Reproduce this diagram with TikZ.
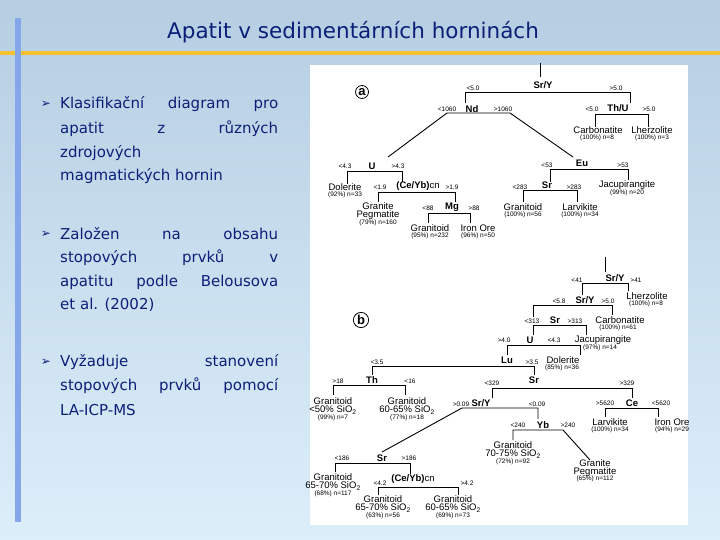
\documentclass[tikz,border=0pt]{standalone}
\usepackage{fontspec}
\setmainfont{DejaVu Sans}
\newfontfamily\trf{Liberation Sans}
\newfontfamily\djv{DejaVu Sans}
\definecolor{navy}{HTML}{0C1F78}
\definecolor{bgtop}{HTML}{B6CEE2}
\definecolor{bgbot}{HTML}{DCEEFA}
\definecolor{barblue}{HTML}{86A6EC}
\definecolor{yel}{HTML}{F2C230}
\begin{document}
\begin{tikzpicture}[x=1pt,y=-1pt,
  nm/.style={font=\trf\bfseries\fontsize{9.5}{10}\selectfont,inner sep=0.5pt},
  lf/.style={font=\trf\fontsize{9.5}{8.5}\selectfont,inner sep=0.5pt,align=center},
  st/.style={font=\trf\fontsize{6.5}{7}\selectfont,inner sep=0.5pt,align=center},
  th/.style={font=\trf\fontsize{6.5}{7}\selectfont,inner sep=0.5pt},
  br/.style={line width=0.9pt,black},
  bl/.style={font=\fontsize{15}{20}\selectfont,text=navy,anchor=west,inner sep=0pt},
  bul/.style={font=\djv\fontsize{12}{12}\selectfont,text=navy,inner sep=0pt}]
\useasboundingbox (0,0) rectangle (720,540);
\shade[top color=bgtop,bottom color=bgbot] (0,0) rectangle (720,540);
\fill[yel] (0,51) rectangle (720,55);
\fill[barblue] (15,18) rectangle (21,522);
\node[font=\fontsize{21.5}{24}\selectfont,text=navy] (title) at (353,32) {Apatit v sedimentárních horninách};
% bullets
\node[bul] (b1) at (46,104) {➢};
\node[bl] (l11) at (60,104) {\makebox[218pt][s]{Klasifikační\hfill diagram\hfill pro}};
\node[bl] (l12) at (60,129) {\makebox[218pt][s]{apatit\hfill z\hfill různých}};
\node[bl] (l13) at (60,153) {zdrojových};
\node[bl] (l14) at (60,176) {magmatických hornin};
\node[bul] (b2) at (46,234) {➢};
\node[bl] (l21) at (60,234) {\makebox[218pt][s]{Založen\hfill na\hfill obsahu}};
\node[bl] (l22) at (60,258) {\makebox[218pt][s]{stopových\hfill prvků\hfill v}};
\node[bl] (l23) at (60,282) {\makebox[218pt][s]{apatitu\hfill podle\hfill Belousova}};
\node[bl] (l24) at (60,305) {et al. (2002)};
\node[bul] (b3) at (46,362) {➢};
\node[bl] (l31) at (60,362) {\makebox[218pt][s]{Vyžaduje\hfill stanovení}};
\node[bl] (l32) at (60,386) {\makebox[218pt][s]{stopových\hfill prvků\hfill pomocí}};
\node[bl] (l33) at (60,410) {LA-ICP-MS};
% panel
\fill[white] (310,65) rectangle (688,525);
% ---------- tree a ----------
\node[draw,circle,line width=0.8pt,inner sep=1pt,font=\trf\bfseries\fontsize{13}{13}\selectfont] (ca) at (362,92) {a};
\draw[br] (540,63) -- (540,77);
\node[nm] (srya) at (543,85) {Sr/Y};
\node[th] at (473,88) {<5.0}; \node[th] at (616,88) {>5.0};
\draw[br] (465,103) -- (465,92) -- (630,92) -- (630,103);
\node[nm] (nd) at (472,109) {Nd};
\node[th] at (447,109) {<1060}; \node[th] at (503,109) {>1060};
\draw[br] (388,157) -- (447,113) -- (510,113) -- (573,157);
\node[nm] (thu) at (618,108) {Th/U};
\node[th] at (592,109) {<5.0}; \node[th] at (649,109) {>5.0};
\draw[br] (595,127) -- (595,114) -- (648,114) -- (648,127);
\node[lf] at (598,130) {Carbonatite}; \node[st] at (597,138) {(100\%) n=8};
\node[lf] at (652,130) {Lherzolite}; \node[st] at (652,138) {(100\%) n=3};
\node[nm] (ua) at (372,166) {U};
\node[th] at (345,166) {<4.3}; \node[th] at (398,166) {>4.3};
\draw[br] (347,184) -- (347,171) -- (402,171) -- (402,182);
\node[lf] at (345,187) {Dolerite}; \node[st] at (345,195) {(92\%) n=33};
\node[nm] at (418,186) {(Ce/Yb)\textmd{cn}};
\node[th] at (380,187) {<1.9}; \node[th] at (452,187) {>1.9};
\draw[br] (378,202) -- (378,192) -- (455,192) -- (455,202);
\node[lf] at (378,211) {Granite\\Pegmatite}; \node[st] at (378,223) {(79\%) n=160};
\node[nm] at (452,207) {Mg};
\node[th] at (428,208) {<88}; \node[th] at (474,208) {>88};
\draw[br] (428,223) -- (428,213) -- (470,213) -- (470,223);
\node[lf] at (430,228) {Granitoid}; \node[st] at (430,236) {(95\%) n=232};
\node[lf] at (478,228) {Iron Ore}; \node[st] at (478,236) {(96\%) n=50};
\node[nm] at (582,163) {Eu};
\node[th] at (547,165) {<53}; \node[th] at (623,165) {>53};
\draw[br] (550,182) -- (550,169) -- (628,169) -- (628,180);
\node[nm] at (547,185) {Sr};
\node[th] at (520,187) {<283}; \node[th] at (574,187) {>283};
\node[lf] at (627,185) {Jacupirangite}; \node[st] at (627,193) {(99\%) n=20};
\draw[br] (523,202) -- (523,190) -- (577,190) -- (577,202);
\node[lf] at (523,207) {Granitoid}; \node[st] at (523,215) {(100\%) n=56};
\node[lf] at (580,207) {Larvikite}; \node[st] at (580,215) {(100\%) n=34};
% ---------- tree b ----------
\node[draw,circle,line width=0.8pt,inner sep=1pt,font=\trf\bfseries\fontsize{13}{13}\selectfont] (cb) at (361,320) {b};
\draw[br] (605,257) -- (605,272);
\node[nm] at (615,278) {Sr/Y};
\node[th] at (577,280) {<41}; \node[th] at (636,280) {>41};
\draw[br] (582,295) -- (582,283) -- (628,283) -- (628,291);
\node[lf] at (647,296) {Lherzolite}; \node[st] at (646,304) {(100\%) n=8};
\node[nm] at (585,300) {Sr/Y};
\node[th] at (559,301) {<5.8}; \node[th] at (608,301) {>5.0};
\draw[br] (533,317) -- (533,305) -- (612,305) -- (612,315);
\node[lf] at (620,320) {Carbonatite}; \node[st] at (618,328) {(100\%) n=61};
\node[nm] at (555,320) {Sr};
\node[th] at (532,321) {<313}; \node[th] at (575,321) {>313};
\draw[br] (533,335) -- (533,325) -- (586,325) -- (586,335);
\node[lf] at (603,340) {Jacupirangite}; \node[st] at (600,348) {(97\%) n=14};
\node[nm] at (530,340) {U};
\node[th] at (504,340) {>4.0}; \node[th] at (554,340) {<4.3};
\draw[br] (507,355) -- (507,345) -- (580,345) -- (580,355);
\node[lf] at (563,360) {Dolerite}; \node[st] at (562,368) {(85\%) n=36};
\node[nm] at (507,360) {Lu};
\node[th] at (377,362) {<3.5}; \node[th] at (532,362) {>3.5};
\draw[br] (372,375) -- (372,366) -- (534,366) -- (534,375);
\node[nm] at (372,380) {Th};
\node[th] at (338,381) {>18}; \node[th] at (410,381) {<16};
\draw[br] (333,395) -- (333,385) -- (405,385) -- (405,395);
\node[lf] at (333,406) {Granitoid\\<50\% SiO\textsubscript{2}}; \node[st] at (333,418) {(99\%) n=7};
\node[lf] at (407,406) {Granitoid\\60-65\% SiO\textsubscript{2}}; \node[st] at (407,418) {(77\%) n=18};
\node[nm] at (534,380) {Sr};
\node[th] at (492,383) {<329}; \node[th] at (627,383) {>329};
\draw[br] (492,398) -- (492,388) -- (632,388) -- (632,398);
\node[nm] at (481,403) {Sr/Y};
\node[th] at (461,404) {>0.09}; \node[th] at (537,404) {<0.09};
\draw[br] (382,452) -- (462,408) -- (538,408) -- (538,419);
\node[nm] at (632,403) {Ce};
\node[th] at (605,403) {>5620}; \node[th] at (661,403) {<5620};
\draw[br] (605,417) -- (605,408) -- (658,408) -- (658,417);
\node[lf] at (610,422) {Larvikite}; \node[st] at (610,430) {(100\%) n=34};
\node[lf] at (672,422) {Iron Ore}; \node[st] at (672,430) {(94\%) n=29};
\node[nm] at (543,425) {Yb};
\node[th] at (518,425) {<240}; \node[th] at (568,425) {>240};
\draw[br] (513,440) -- (513,430) -- (563,430) -- (590,460);
\node[lf] at (513,450) {Granitoid\\70-75\% SiO\textsubscript{2}}; \node[st] at (513,462) {(72\%) n=92};
\node[lf] at (595,468) {Granite\\Pegmatite}; \node[st] at (595,479) {(65\%) n=112};
\node[nm] at (382,458) {Sr};
\node[th] at (342,458) {<186}; \node[th] at (409,458) {>186};
\draw[br] (335,472) -- (335,463) -- (410,463) -- (410,474);
\node[lf] at (333,482) {Granitoid\\65-70\% SiO\textsubscript{2}}; \node[st] at (333,494) {(68\%) n=117};
\node[nm] at (413,479) {(Ce/Yb)\textmd{cn}};
\node[th] at (380,483) {<4.2}; \node[th] at (467,483) {>4.2};
\draw[br] (378,495) -- (378,487) -- (458,487) -- (458,495);
\node[lf] at (383,504) {Granitoid\\65-70\% SiO\textsubscript{2}}; \node[st] at (383,516) {(63\%) n=56};
\node[lf] at (453,504) {Granitoid\\60-65\% SiO\textsubscript{2}}; \node[st] at (453,516) {(69\%) n=73};
\end{tikzpicture}
\end{document}
